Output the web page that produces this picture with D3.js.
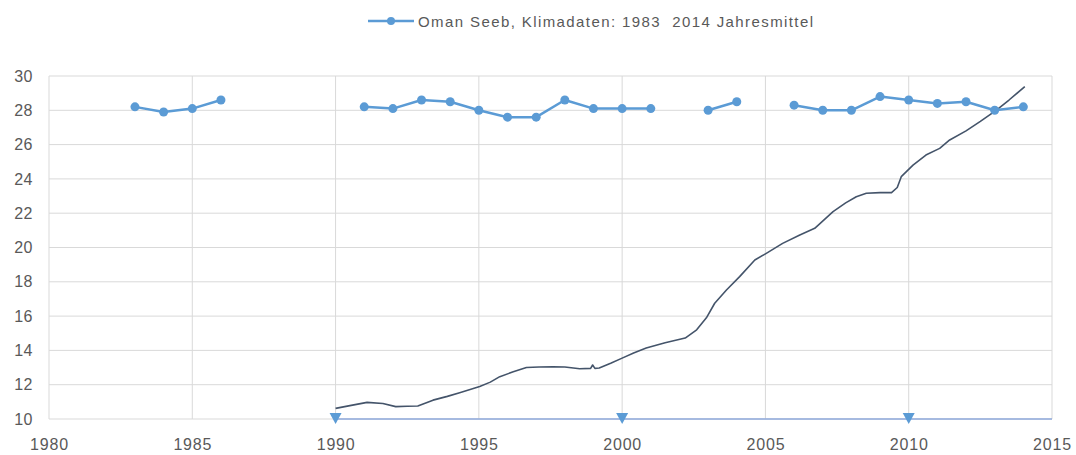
<!DOCTYPE html>
<html><head><meta charset="utf-8">
<script src="https://cdn.jsdelivr.net/npm/d3@7"></script>
<style>body{margin:0;background:#fff}svg{display:block}</style>
</head><body><svg id="c" width="1076" height="455"></svg>
<script>
const legendLabel = "Oman Seeb, Klimadaten: 1983  2014 Jahresmittel";
const xTicks = [1980,1985,1990,1995,2000,2005,2010,2015];
const yTicks = [10,12,14,16,18,20,22,24,26,28,30];
// Jahresmittel (null = missing year)
const years = [1983,1984,1985,1986,1987,1988,1989,1990,1991,1992,1993,1994,1995,1996,1997,1998,1999,2000,2001,2002,2003,2004,2005,2006,2007,2008,2009,2010,2011,2012,2013,2014];
const temps = [28.2,27.9,28.1,28.6,null,null,null,null,28.2,28.1,28.6,28.5,28.0,27.6,27.6,28.6,28.1,28.1,28.1,null,28.0,28.5,null,28.3,28.0,28.0,28.8,28.6,28.4,28.5,28.0,28.2];
// dark trend line
const trendX = [1990.0,1990.5,1991.1,1991.65,1992.1,1992.5,1992.87,1993.4,1993.9,1994.33,1995.03,1995.4,1995.73,1996.2,1996.66,1997.1,1997.58,1998.0,1998.52,1998.9,1998.97,1999.05,1999.2,1999.6,2000.0,2000.4,2000.84,2001.5,2002.2,2002.6,2002.94,2003.23,2003.64,2004.1,2004.63,2005.03,2005.6,2006.2,2006.72,2007.36,2007.8,2008.17,2008.52,2009.0,2009.4,2009.6,2009.74,2010.15,2010.6,2011.08,2011.43,2012.0,2012.5,2013.05,2013.5,2014.05];
const trendY = [10.62,10.78,10.97,10.9,10.72,10.74,10.76,11.1,11.32,11.53,11.9,12.15,12.47,12.75,13.0,13.03,13.05,13.03,12.93,12.95,13.15,12.95,12.97,13.25,13.55,13.85,14.14,14.45,14.72,15.2,15.9,16.75,17.52,18.3,19.27,19.66,20.24,20.73,21.12,22.09,22.6,22.96,23.16,23.2,23.2,23.5,24.13,24.8,25.39,25.78,26.27,26.8,27.35,28.0,28.6,29.38];
const baseYears = [1990,2000,2010,2015];
const baseVals = [10,10,10,10];
const markerYears = [1990,2000,2010];

const svg = d3.select("#c");
const x = d3.scaleLinear().domain([1980,2015]).range([49,1052]);
const y = d3.scaleLinear().domain([10,30]).range([419,76]);
const blue = "#5B9BD5", txt = "#595959", grid = "#D9D9D9";
const font = "Liberation Sans, Arial, sans-serif";

// grid
svg.append("g").selectAll("line").data(yTicks).join("line")
  .attr("x1",x(1980)).attr("x2",x(2015)).attr("y1",d=>y(d)).attr("y2",d=>y(d))
  .attr("stroke",grid).attr("stroke-width",1);
svg.append("g").selectAll("line").data(xTicks).join("line")
  .attr("x1",d=>x(d)).attr("x2",d=>x(d)).attr("y1",y(30)).attr("y2",y(10))
  .attr("stroke",grid).attr("stroke-width",1);

// axes labels
const xAxis = d3.axisBottom(x).tickValues(xTicks).tickFormat(d3.format("d")).tickSize(0).tickPadding(20);
const gx = svg.append("g").attr("transform",`translate(0,${y(10)})`).call(xAxis);
gx.select(".domain").remove();
gx.selectAll("text").attr("fill",txt).style("font-family",font).style("font-size","16px").style("letter-spacing","0.8px");
const yAxis = d3.axisLeft(y).tickValues(yTicks).tickSize(0).tickPadding(16);
const gy = svg.append("g").attr("transform",`translate(${x(1980)},0)`).call(yAxis);
gy.select(".domain").remove();
gy.selectAll("text").attr("fill",txt).style("font-family",font).style("font-size","16px").style("letter-spacing","0.5px");

// baseline series with triangles
svg.append("path").datum(baseYears.map((d,i)=>[d,baseVals[i]]))
  .attr("d",d3.line().x(d=>x(d[0])).y(d=>y(d[1])))
  .attr("fill","none").attr("stroke","#8FAADC").attr("stroke-width",1.5);
svg.append("g").selectAll("path").data(markerYears).join("path")
  .attr("d","M-6,-5 L6,-5 L0,6 Z")
  .attr("transform",d=>`translate(${x(d)},${y(10)-1})`)
  .attr("fill",blue);

// trend line
svg.append("path").datum(trendX.map((d,i)=>[d,trendY[i]]))
  .attr("d",d3.line().x(d=>x(d[0])).y(d=>y(d[1])))
  .attr("fill","none").attr("stroke","#44546A").attr("stroke-width",1.6).attr("stroke-linejoin","round");

// temperature series
const pts = years.map((d,i)=>[d,temps[i]]);
svg.append("path").datum(pts)
  .attr("d",d3.line().defined(d=>d[1]!==null).x(d=>x(d[0])).y(d=>y(d[1])))
  .attr("fill","none").attr("stroke",blue).attr("stroke-width",2.5).attr("stroke-linejoin","round");
svg.append("g").selectAll("circle").data(pts.filter(d=>d[1]!==null)).join("circle")
  .attr("cx",d=>x(d[0])).attr("cy",d=>y(d[1])).attr("r",4.5).attr("fill",blue);

// legend
const lg = svg.append("g").attr("transform","translate(368,21)");
lg.append("line").attr("x1",0).attr("x2",46).attr("y1",0).attr("y2",0).attr("stroke",blue).attr("stroke-width",2.5);
lg.append("circle").attr("cx",23).attr("cy",0).attr("r",4).attr("fill",blue);
lg.append("text").attr("x",50).attr("y",5.5).attr("xml:space","preserve").style("white-space","pre")
  .attr("textLength",395).attr("lengthAdjust","spacing").text(legendLabel)
  .attr("fill",txt).style("font-family",font).style("font-size","15px");
</script></body></html>
